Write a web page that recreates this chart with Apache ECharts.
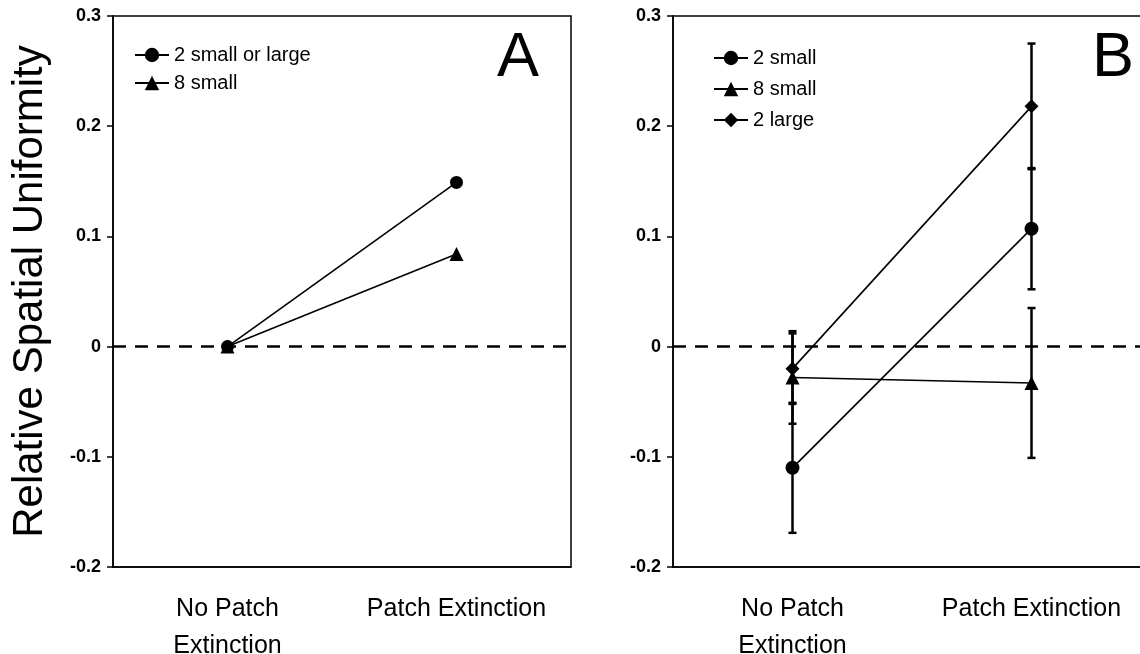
<!DOCTYPE html>
<html>
<head>
<meta charset="utf-8">
<script src="https://cdn.jsdelivr.net/npm/echarts@6/dist/echarts.min.js"></script>
<style>
    html, body { margin: 0; background: #fff; }
    #chart { width: 1140px; height: 654px; }
</style>
</head>
<body>
<div id="chart"></div>
<script>
const categories = ['No Patch\nExtinction', 'Patch Extinction'];
const yMin = -0.2;
const yMax = 0.3;
const yStep = 0.1;

// panel A
const aTwoSmallOrLarge = [0, 0.149];
const aEightSmall = [0, 0.084];

// panel B: means and +/- error
const bTwoSmall = [-0.110, 0.107];
const bTwoSmallErr = [0.059, 0.055];
const bEightSmall = [-0.028, -0.033];
const bEightSmallErr = [0.042, 0.068];
const bTwoLarge = [-0.020, 0.218];
const bTwoLargeErr = [0.032, 0.057];

const font = 'Liberation Sans, Arial, sans-serif';

function errData(mean, err) {
    return mean.map((m, i) => [i, m - err[i], m + err[i]]);
}

function renderErr(params, api) {
    const top = api.coord([api.value(0), api.value(2)]);
    const bot = api.coord([api.value(0), api.value(1)]);
    const w = 4;
    const style = { stroke: '#000', lineWidth: 2.5 };
    return {
        type: 'group',
        children: [
            { type: 'line', shape: { x1: top[0], y1: top[1], x2: bot[0], y2: bot[1] }, style },
            { type: 'line', shape: { x1: top[0] - w, y1: top[1], x2: top[0] + w, y2: top[1] }, style },
            { type: 'line', shape: { x1: bot[0] - w, y1: bot[1], x2: bot[0] + w, y2: bot[1] }, style }
        ]
    };
}

function xAxis(gridIndex) {
    return {
        type: 'category',
        gridIndex,
        data: categories,
        boundaryGap: true,
        axisLine: { onZero: false, lineStyle: { color: '#000', width: 1.5 } },
        axisTick: { show: false },
        axisLabel: {
            interval: 0, hideOverlap: false,
            color: '#000', fontSize: 25, fontFamily: font, margin: 24, lineHeight: 37
        }
    };
}

function yAxis(gridIndex, name) {
    return {
        type: 'value',
        gridIndex,
        min: yMin,
        max: yMax,
        interval: yStep,
        name,
        nameLocation: 'middle',
        nameGap: 62,
        nameTextStyle: { color: '#000', fontSize: 42, fontFamily: font },
        splitLine: { show: false },
        axisLine: { show: true, lineStyle: { color: '#000', width: 1.5 } },
        axisTick: { show: true, length: 6, lineStyle: { color: '#000', width: 1.5 } },
        axisLabel: { color: '#000', fontSize: 18, fontWeight: 'bold', fontFamily: font, margin: 12 }
    };
}

function lineSeries(name, data, symbol, size, idx) {
    return {
        name,
        type: 'line',
        xAxisIndex: idx,
        yAxisIndex: idx,
        data,
        symbol,
        symbolSize: size,
        itemStyle: { color: '#000' },
        lineStyle: { color: '#000', width: 1.6 },
        z: 3
    };
}

function errSeries(mean, err) {
    return {
        type: 'custom',
        xAxisIndex: 1,
        yAxisIndex: 1,
        data: errData(mean, err),
        encode: { x: 0, y: [1, 2] },
        renderItem: renderErr,
        z: 2
    };
}

const zeroLine = {
    silent: true,
    symbol: 'none',
    label: { show: false },
    lineStyle: { color: '#000', width: 2.5, type: [13, 9] },
    data: [{ yAxis: 0 }]
};

const legendBase = {
    orient: 'vertical',
    padding: 0,
    itemWidth: 34,
    itemHeight: 18,
    itemGap: 8,
    textStyle: { color: '#000', fontSize: 20, fontFamily: font },
    inactiveColor: '#000'
};

const chart = echarts.init(document.getElementById('chart'));
chart.setOption({
    animation: false,
    backgroundColor: '#fff',
    title: [
        { text: 'A', left: 492, top: 22, textStyle: { fontSize: 63, fontWeight: 'normal', color: '#000', fontFamily: font } },
        { text: 'B', left: 1087, top: 22, textStyle: { fontSize: 63, fontWeight: 'normal', color: '#000', fontFamily: font } }
    ],
    legend: [
        Object.assign({}, legendBase, { left: 134, top: 45, data: ['2 small or large', '8 small'] }),
        Object.assign({}, legendBase, { left: 713, top: 48, itemGap: 11, data: ['2 small', '8 small', '2 large'] })
    ],
    grid: [
        { left: 113, top: 16, width: 458, height: 551, show: true, borderColor: '#000', borderWidth: 1.5, outerBoundsMode: 'none' },
        { left: 673, top: 16, width: 478, height: 551, show: true, borderColor: '#000', borderWidth: 1.5, outerBoundsMode: 'none' }
    ],
    xAxis: [xAxis(0), xAxis(1)],
    yAxis: [yAxis(0, 'Relative Spatial Uniformity'), yAxis(1, '')],
    series: [
        Object.assign(lineSeries('8 small', aEightSmall, 'triangle', 14, 0), { markLine: zeroLine }),
        lineSeries('2 small or large', aTwoSmallOrLarge, 'circle', 13, 0),
        Object.assign(errSeries(bEightSmall, bEightSmallErr), { markLine: zeroLine }),
        errSeries(bTwoSmall, bTwoSmallErr),
        errSeries(bTwoLarge, bTwoLargeErr),
        lineSeries('2 small', bTwoSmall, 'circle', 14, 1),
        lineSeries('8 small', bEightSmall, 'triangle', 14, 1),
        lineSeries('2 large', bTwoLarge, 'diamond', 14, 1)
    ]
});
</script>
</body>
</html>
